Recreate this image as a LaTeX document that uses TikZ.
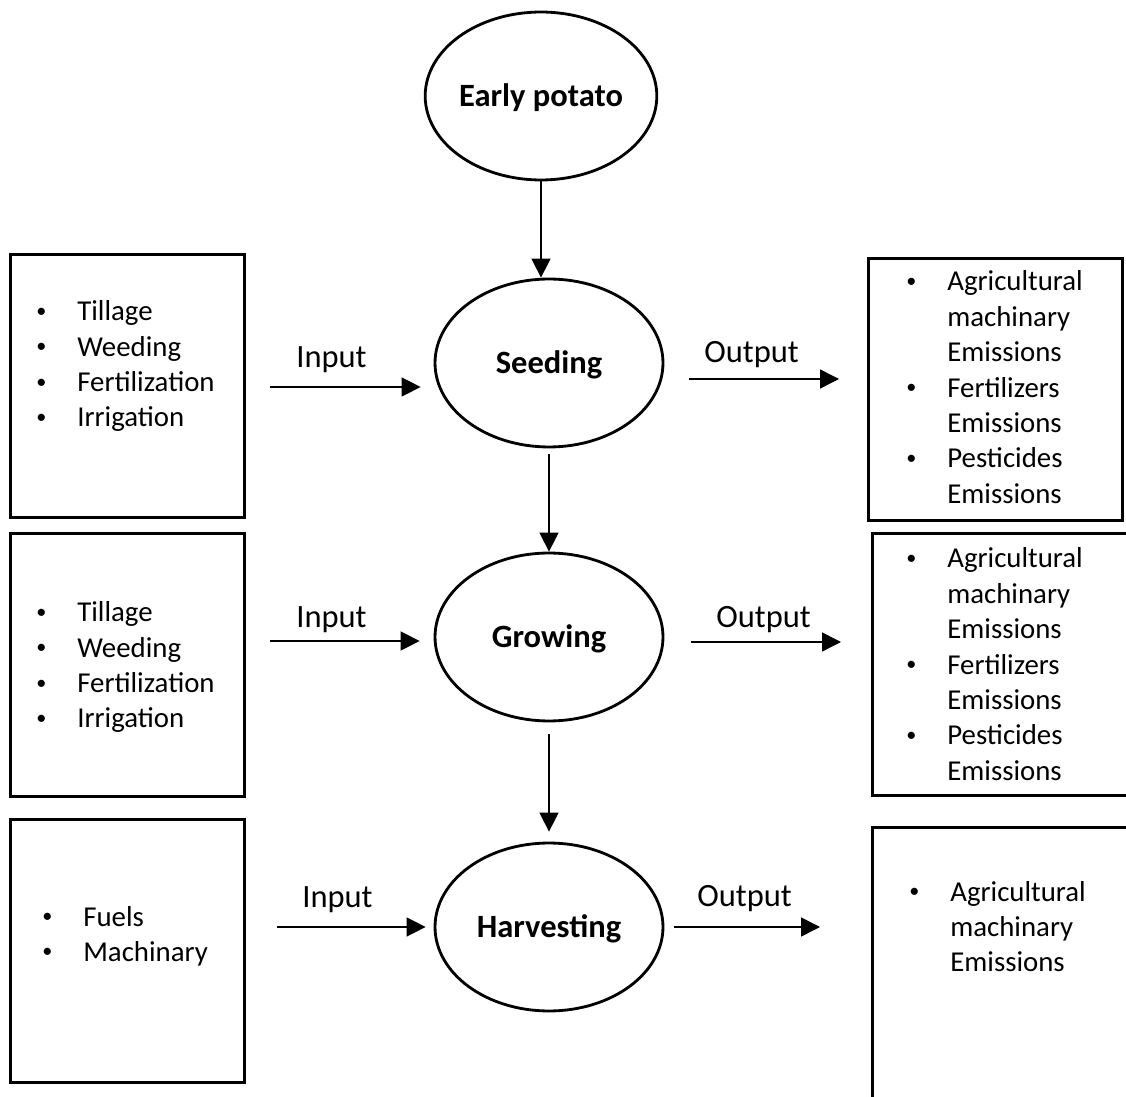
\documentclass[tikz,border=0pt]{standalone}
\usepackage{fontspec}
\setmainfont{Carlito}
\usetikzlibrary{shapes.geometric,arrows.meta}

\newcommand{\itm}[1]{\makebox[0.82cm][l]{\raisebox{0.12em}{\fontsize{11.5}{11.5}\selectfont\textbullet}}#1}
\newcommand{\cnt}[1]{\hspace*{0.82cm}#1}

\begin{document}
\begin{tikzpicture}[x=0.02cm, y=-0.02cm,
  stage/.style={draw, ellipse, line width=1.6pt, minimum width=4.56cm, minimum height=3.36cm,
    inner sep=0pt, text height=0.42cm, text depth=0pt, font=\fontsize{18.5}{22}\selectfont\bfseries},
  listbox/.style={draw, rectangle, line width=1.7pt, inner sep=0pt},
  listline/.style={anchor=base west, inner sep=0pt, font=\fontsize{16.4}{19.7}\selectfont},
  flowlbl/.style={anchor=base west, inner sep=0pt, font=\fontsize{18.5}{22}\selectfont},
  arr/.style={-{Triangle[length=0.38cm,width=0.38cm]}, line width=0.85pt}]
\useasboundingbox (0,0) rectangle (1126,1097);

\node[stage] (ep) at (541,96) {Early potato};
\node[stage] (seed) at (549,363) {Seeding};
\node[stage] (grow) at (549,637) {Growing};
\node[stage] (harv) at (549,927) {Harvesting};

\draw[arr] (ep.south) -- (ep.south |- seed.north);
\draw[arr, shorten <=0.12cm] (seed.south) -- (grow.north);
\draw[arr, shorten <=0.24cm, shorten >=0.2cm] (grow.south) -- (harv.north);

% input side
\node[listbox, minimum width=4.7cm, minimum height=5.28cm] (inA) at (127.5,386) {};
\node[listbox, minimum width=4.7cm, minimum height=5.28cm] (inB) at (127.5,665) {};
\node[listbox, minimum width=4.7cm, minimum height=5.28cm] (inC) at (127.5,951) {};

\foreach \txt [count=\i] in {Tillage,Weeding,Fertilization,Irrigation}
  \node[listline] (inA-\i) at (36,{321+(\i-1)*35.3}) {\itm{\txt}};
\foreach \txt [count=\i] in {Tillage,Weeding,Fertilization,Irrigation}
  \node[listline] (inB-\i) at (36,{622+(\i-1)*35.3}) {\itm{\txt}};
\foreach \txt [count=\i] in {Fuels,Machinary}
  \node[listline] (inC-\i) at (42,{926+(\i-1)*35.3}) {\itm{\txt}};

\coordinate (inA-s) at (270,387);
\coordinate (inB-s) at (270,641);
\coordinate (inC-s) at (277,927);
\draw[arr, shorten >=0.26cm] (inA-s) -- (inA-s -| seed.west);
\draw[arr, shorten >=0.28cm] (inB-s) -- (inB-s -| grow.west);
\draw[arr, shorten >=0.16cm] (inC-s) -- (inC-s -| harv.west);
\node[flowlbl] (inA-l) at (296,368) {Input};
\node[flowlbl] (inB-l) at (296,628) {Input};
\node[flowlbl] (inC-l) at (302,907) {Input};

% output side
\node[listbox, minimum width=5.1cm, minimum height=5.26cm] (outA) at (995.5,389.5) {};
\node[listbox, minimum width=5.36cm, minimum height=5.26cm] (outB) at (1006,664.5) {};
\node[listbox, minimum width=5.36cm, minimum height=5.86cm] (outC) at (1006,973.5) {};

\foreach \bl/\txt [count=\i] in {1/Agricultural,0/machinary,0/Emissions,1/Fertilizers,0/Emissions,1/Pesticides,0/Emissions}
  \node[listline] (outA-\i) at (906,{291+(\i-1)*35.4}) {\ifnum\bl=1 \itm{\txt}\else\cnt{\txt}\fi};
\foreach \bl/\txt [count=\i] in {1/Agricultural,0/machinary,0/Emissions,1/Fertilizers,0/Emissions,1/Pesticides,0/Emissions}
  \node[listline] (outB-\i) at (906,{568+(\i-1)*35.4}) {\ifnum\bl=1 \itm{\txt}\else\cnt{\txt}\fi};
\foreach \bl/\txt [count=\i] in {1/Agricultural,0/machinary,0/Emissions}
  \node[listline] (outC-\i) at (909,{901+(\i-1)*35.4}) {\ifnum\bl=1 \itm{\txt}\else\cnt{\txt}\fi};

\coordinate (outA-e) at (839,379);
\coordinate (outB-e) at (841,642);
\coordinate (outC-e) at (820,927);
\draw[arr, shorten <=0.5cm] (seed.east |- outA-e) -- (outA-e);
\draw[arr, shorten <=0.54cm] (grow.east |- outB-e) -- (outB-e);
\draw[arr, shorten <=0.2cm] (harv.east |- outC-e) -- (outC-e);
\node[flowlbl] (outA-l) at (704,363) {Output};
\node[flowlbl] (outB-l) at (716,628) {Output};
\node[flowlbl] (outC-l) at (697,906) {Output};
\end{tikzpicture}
\end{document}
